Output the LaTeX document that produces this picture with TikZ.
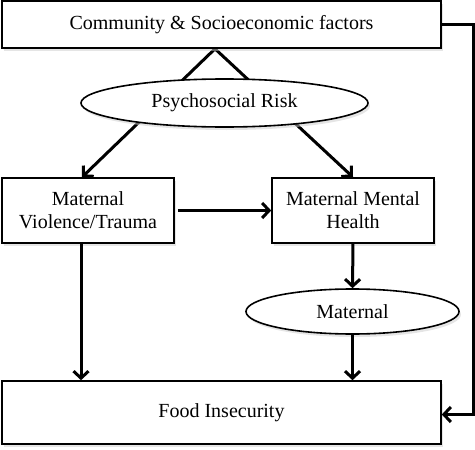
\documentclass[tikz,border=0pt]{standalone}
\usepackage{fontspec}
\setmainfont{Liberation Serif}
\usetikzlibrary{
  positioning,
  arrows.meta,
  shapes.geometric,
  shadows,
  backgrounds
}

\begin{document}
\begin{tikzpicture}[x=1pt,y=-1pt,
  font=\fontsize{20}{23}\selectfont,
  box/.style={draw,line width=1.6pt,fill=white,align=center,inner sep=0pt,
    drop shadow={shadow xshift=2pt,shadow yshift=-3pt,fill=gray!40}},
  oval/.style={box,ellipse},
  link/.style={line width=3pt,-{Straight Barb[length=7pt,width=15pt]}}]
  \useasboundingbox (0,0) rectangle (475,450);
  % boxes
  \node[box,minimum width=439pt,minimum height=47pt] (cs) at (221.5,24.5)
    {Community \& Socioeconomic factors};
  \node[box,minimum width=172pt,minimum height=65pt] (vt) at (88,210.5)
    {Maternal\\Violence/Trauma};
  \node[box,minimum width=162pt,minimum height=65pt] (mh) at (353,210.5)
    {Maternal Mental\\Health};
  \node[box,minimum width=439pt,minimum height=63pt] (fi) at (221.5,412.5)
    {Food Insecurity};
  % ovals
  \node[oval,minimum width=287pt,minimum height=48pt] (risk) at (224.5,103)
    {Psychosocial Risk};
  \node[oval,minimum width=213pt,minimum height=45pt] (mat) at (352.5,311.5)
    {Maternal};
  \coordinate (apex) at ([xshift=-6.5pt]cs.south);
  % lines behind the risk oval
  \begin{pgfonlayer}{background}
    \draw[link] (apex) -- ([xshift=-6pt]vt.north);
    \draw[link] (apex) -- (mh.north);
  \end{pgfonlayer}
  % arrows
  \draw[link,shorten <=3pt] (vt.east) -- (mh.west);
  \draw[link] (mh.south) -- (mat.north);
  \draw[link] (mat.south) -- (mat.south |- fi.north);
  \draw[link] ([xshift=-7pt]vt.south) -- ([xshift=-7pt]vt.south |- fi.north);
  \draw[link] (cs.east) -- ++(32,0) |- ([yshift=-2pt]fi.east);
\end{tikzpicture}
\end{document}
